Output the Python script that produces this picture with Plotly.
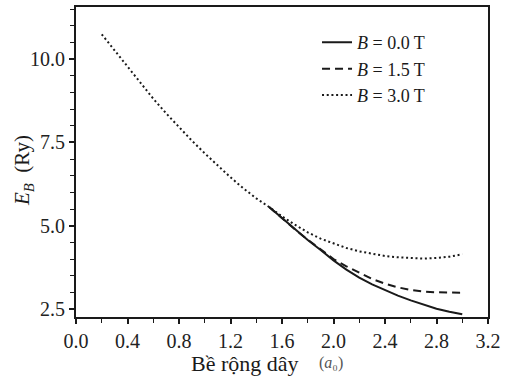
import plotly.graph_objects as go

# Data
x_b3 = [0.2, 0.3, 0.4, 0.5, 0.6, 0.7, 0.8, 0.9, 1.0, 1.1, 1.2, 1.3, 1.4, 1.5,
        1.6, 1.7, 1.8, 1.9, 2.0, 2.1, 2.2, 2.3, 2.4, 2.5, 2.6, 2.7, 2.8, 2.9, 3.0]
e_b3 = [10.74, 10.25, 9.76, 9.28, 8.81, 8.37, 7.95, 7.55, 7.17, 6.80, 6.45, 6.12, 5.82, 5.56,
        5.28, 5.03, 4.80, 4.61, 4.46, 4.33, 4.23, 4.15, 4.09, 4.05, 4.02, 4.01, 4.03, 4.07, 4.14]

x_b0 = [1.5, 1.6, 1.7, 1.8, 1.9, 2.0, 2.1, 2.2, 2.3, 2.4, 2.5, 2.6, 2.7, 2.8, 2.9, 3.0]
e_b0 = [5.56, 5.22, 4.89, 4.57, 4.27, 3.96, 3.68, 3.44, 3.24, 3.06, 2.90, 2.76, 2.63, 2.51, 2.42, 2.34]

x_b15 = [1.5, 1.6, 1.7, 1.8, 1.9, 2.0, 2.1, 2.2, 2.3, 2.4, 2.5, 2.6, 2.7, 2.8, 2.9, 3.0]
e_b15 = [5.56, 5.22, 4.89, 4.58, 4.28, 4.00, 3.78, 3.58, 3.40, 3.26, 3.15, 3.07, 3.02, 3.00, 2.99, 2.99]

names = ["<i>B</i> = 0.0 T", "<i>B</i> = 1.5 T", "<i>B</i> = 3.0 T"]
x_ticks = [0.0, 0.4, 0.8, 1.2, 1.6, 2.0, 2.4, 2.8, 3.2]
y_ticks = [2.5, 5.0, 7.5, 10.0]

FONT = "Liberation Serif"
INK = "#1a1a1a"

fig = go.Figure()
fig.add_trace(go.Scatter(x=x_b0, y=e_b0, mode="lines", name=names[0],
                         line=dict(color=INK, width=2, dash="solid")))
fig.add_trace(go.Scatter(x=x_b15, y=e_b15, mode="lines", name=names[1],
                         line=dict(color=INK, width=2, dash="8px,5px")))
fig.add_trace(go.Scatter(x=x_b3, y=e_b3, mode="lines", name=names[2],
                         line=dict(color=INK, width=2, dash="2px,2.7px")))

axis_common = dict(
    showline=True, linecolor=INK, linewidth=2, mirror=True,
    ticks="outside", ticklen=5, tickwidth=1.5, tickcolor=INK,
    showgrid=False, zeroline=False,
    tickfont=dict(family=FONT, size=20, color="#222"),
)

fig.update_xaxes(range=[0, 3.2], tickvals=x_ticks, tickformat=".1f",
                 minor=dict(dtick=0.2, tick0=0, ticks="outside", ticklen=4,
                            tickwidth=1.2, tickcolor=INK, showgrid=False),
                 **axis_common)
fig.update_yaxes(range=[2.26, 11.56], tickvals=y_ticks, tickformat=".1f",
                 minor=dict(dtick=0.5, tick0=0, ticks="outside", ticklen=4,
                            tickwidth=1.2, tickcolor=INK, showgrid=False),
                 **axis_common)

fig.update_layout(
    width=506, height=379,
    margin=dict(l=76, r=17, t=5, b=62),
    paper_bgcolor="white", plot_bgcolor="white",
    font=dict(family=FONT, color=INK),
    legend=dict(x=0.585, y=0.945, xanchor="left", yanchor="top",
                bgcolor="rgba(0,0,0,0)", borderwidth=0,
                font=dict(family=FONT, size=18, color=INK),
                itemwidth=30, tracegroupgap=0),
    annotations=[
        dict(text="Bề rộng dây", xref="paper", yref="paper",
             x=(245 - 76) / 413, y=-(364 - 317) / 312,
             xanchor="center", yanchor="middle", showarrow=False,
             font=dict(family=FONT, size=22, color=INK)),
        dict(text="(<i>a</i>₀)", xref="paper", yref="paper",
             x=(332 - 76) / 413, y=-(363 - 317) / 312,
             xanchor="center", yanchor="middle", showarrow=False,
             font=dict(family=FONT, size=16, color="#555")),
        dict(text="<i>E</i><sub><i>B</i></sub>  (Ry)", xref="paper", yref="paper",
             x=(23 - 76) / 413, y=(317 - 170) / 312, textangle=-90,
             xanchor="center", yanchor="middle", showarrow=False,
             font=dict(family=FONT, size=21, color=INK)),
    ],
)

fig.write_html("out.html", config={"displayModeBar": False},
               post_script="document.body.style.margin='0px';")
